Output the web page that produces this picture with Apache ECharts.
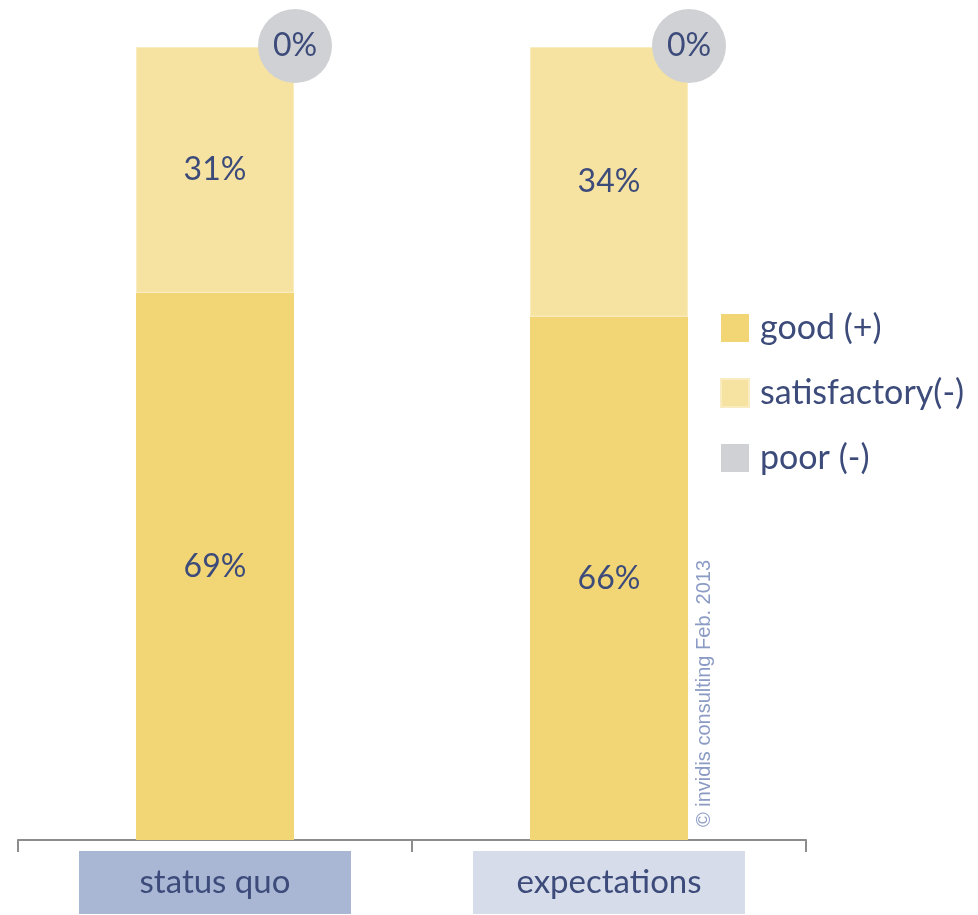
<!DOCTYPE html>
<html>
<head>
<meta charset="utf-8">
<script src="https://cdn.jsdelivr.net/npm/echarts@6/dist/echarts.min.js"></script>
<style>
  html, body { margin: 0; padding: 0; background: #fff; }
  #chart { width: 978px; height: 915px; }
</style>
</head>
<body>
<div id="chart"></div>
<script>
const categories = ['status quo', 'expectations']
const good = [69, 66]
const satisfactory = [31, 34]
const poor = [0, 0]
const seriesNames = ['good (+)', 'satisfactory(-)', 'poor (-)']

const textColor = '#3c4b7a'
const fontFamily = 'Lato, "Open Sans", sans-serif'
const labelBoxColors = ['#a9b6d4', '#d6dcea']

const chart = echarts.init(document.getElementById('chart'))

// circle sits at the top of each stacked column
const poorPoints = categories.map((c, i) => [i, good[i] + satisfactory[i] + poor[i]])

const boxStyle = (i) => ({
  backgroundColor: labelBoxColors[i],
  width: 272,
  height: 63,
  lineHeight: 63,
  align: 'center',
  fontSize: 33,
  color: textColor
})

chart.setOption({
  animation: false,
  textStyle: { fontFamily },
  grid: { left: 18, right: 172, top: 47, bottom: 75 },
  legend: {
    orient: 'vertical',
    left: 715,
    top: 306,
    itemWidth: 28,
    itemHeight: 28,
    itemGap: 31,
    data: seriesNames.map(n => ({ name: n, icon: 'rect' })),
    textStyle: { color: textColor, fontSize: 34, fontFamily, padding: [0, 0, 0, 6] }
  },
  xAxis: {
    type: 'category',
    data: categories,
    axisLine: { lineStyle: { color: '#8c8c8c', width: 2 } },
    axisTick: { show: true, length: 12, lineStyle: { color: '#8c8c8c', width: 2 } },
    axisLabel: {
      margin: 11,
      formatter: (v) => '{b' + categories.indexOf(v) + '|' + v + '}',
      rich: { b0: boxStyle(0), b1: boxStyle(1) }
    }
  },
  yAxis: { type: 'value', min: 0, max: 100, show: false },
  series: [
    {
      name: seriesNames[0],
      type: 'bar',
      stack: 'total',
      barWidth: 158,
      data: good,
      itemStyle: { color: '#f2d676' },
      label: { show: true, position: 'inside', formatter: '{c}%', color: textColor, fontSize: 32 }
    },
    {
      name: seriesNames[1],
      type: 'bar',
      stack: 'total',
      data: satisfactory,
      itemStyle: { color: '#f7e3a1', borderColor: '#f9ecc0', borderWidth: 1 },
      label: { show: true, position: 'inside', formatter: '{c}%', color: textColor, fontSize: 32 }
    },
    {
      name: seriesNames[2],
      type: 'scatter',
      clip: false,
      z: 5,
      data: poorPoints,
      symbol: 'circle',
      symbolSize: 74,
      symbolOffset: [80, -1],
      itemStyle: { color: '#d0d1d4', opacity: 1 },
      label: {
        show: true,
        position: 'inside',
        formatter: (p) => poor[p.dataIndex] + '%',
        color: textColor,
        fontSize: 32
      }
    }
  ],
  graphic: [
    {
      type: 'text',
      x: 694,
      y: 827,
      rotation: Math.PI / 2,
      style: {
        text: '© invidis consulting Feb. 2013',
        fill: '#8b9bc4',
        font: '20px "Liberation Sans", Arial, sans-serif'
      }
    }
  ]
})
</script>
</body>
</html>
